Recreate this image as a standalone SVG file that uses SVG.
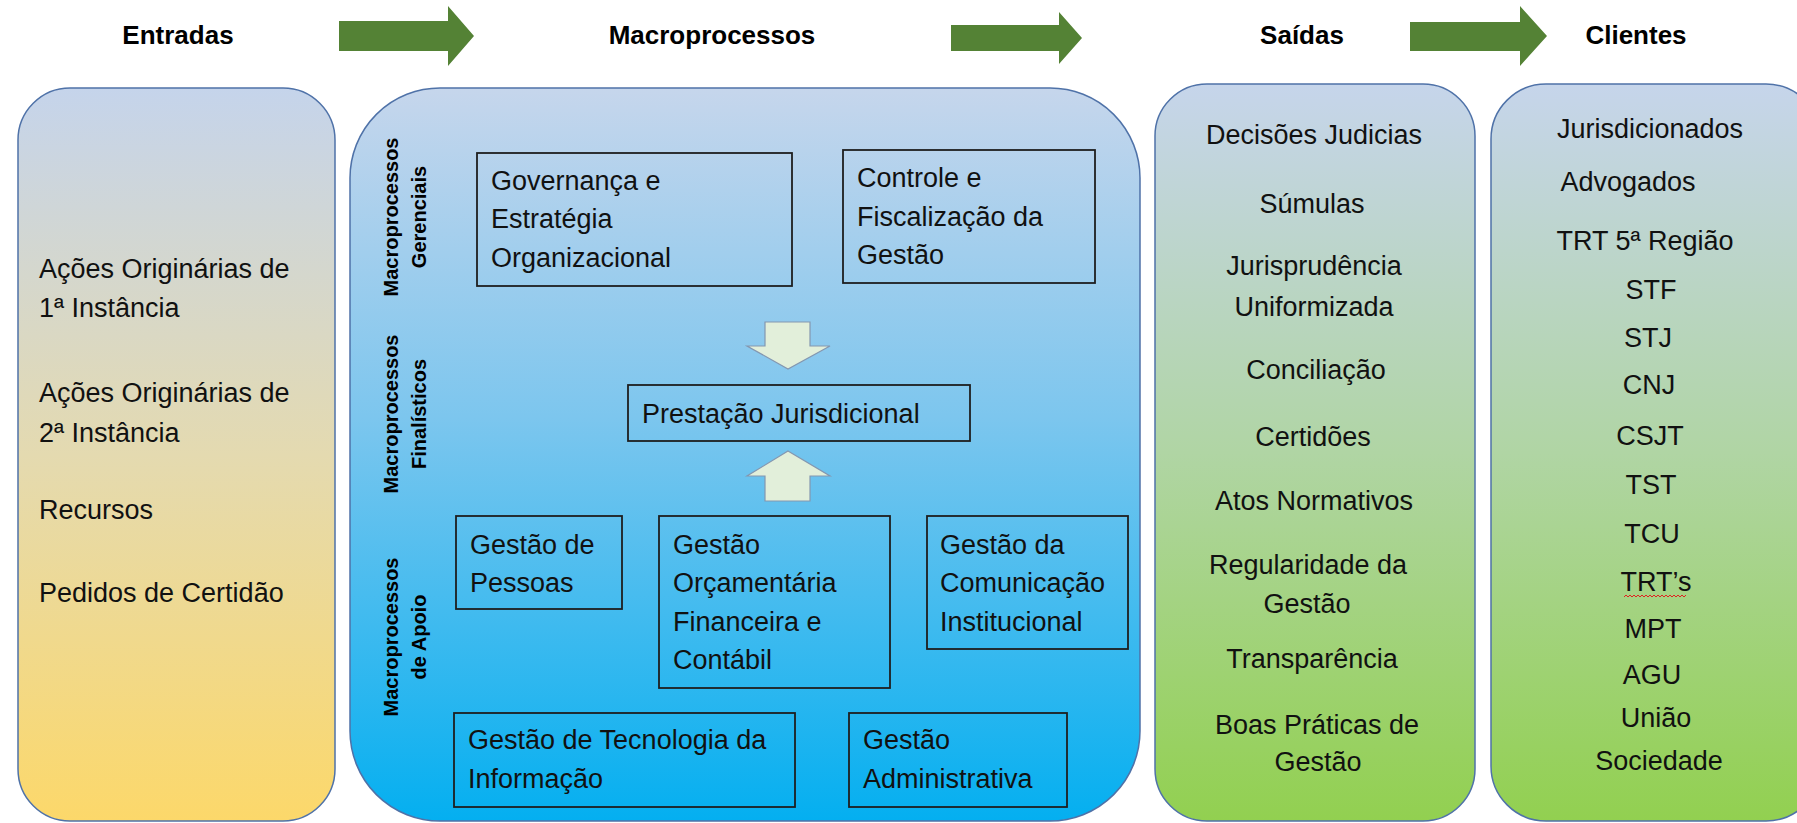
<svg xmlns="http://www.w3.org/2000/svg" width="1797" height="823" viewBox="0 0 1797 823">
<defs>
<linearGradient id="gIn" x1="0" y1="0" x2="0" y2="1"><stop offset="0" stop-color="#c5d4eb"/><stop offset="0.5" stop-color="#e4dab0"/><stop offset="1" stop-color="#fcd86a"/></linearGradient>
<linearGradient id="gMac" x1="0" y1="0" x2="0" y2="1"><stop offset="0" stop-color="#c6d6ec"/><stop offset="0.45" stop-color="#7cc6ee"/><stop offset="1" stop-color="#04aff0"/></linearGradient>
<linearGradient id="gOut" x1="0" y1="0" x2="0" y2="1"><stop offset="0" stop-color="#c6d5eb"/><stop offset="0.5" stop-color="#b0d5a4"/><stop offset="1" stop-color="#92d050"/></linearGradient>
<style>
.t{font-family:"Liberation Sans",Arial,sans-serif;font-size:27px;fill:#111}
.h{font-family:"Liberation Sans",Arial,sans-serif;font-size:26px;font-weight:bold;fill:#000;text-anchor:middle}
.v{font-family:"Liberation Sans",Arial,sans-serif;font-size:20px;font-weight:bold;fill:#000;text-anchor:middle}
.c{text-anchor:middle}
.rb{stroke:#4f72a8;stroke-width:1.5}
.pb{fill:none;stroke:#1e1e1e;stroke-width:1.8}
.ba{fill:#e2efda;stroke:#8497b0;stroke-width:1.2}
.ga{fill:#548235}
</style>
</defs>
<rect width="1797" height="823" fill="#ffffff"/>

<g id="headers">
<text class="h" x="178" y="44">Entradas</text>
<text class="h" x="712" y="44">Macroprocessos</text>
<text class="h" x="1302" y="44">Saídas</text>
<text class="h" x="1636" y="44">Clientes</text>
</g>

<g id="entradas">
<rect class="rb" x="18" y="88" width="317" height="733" rx="52" ry="52" fill="url(#gIn)"/>
<text class="t" x="39" y="278">Ações Originárias de</text>
<text class="t" x="39" y="317">1ª Instância</text>
<text class="t" x="39" y="402">Ações Originárias de</text>
<text class="t" x="39" y="442">2ª Instância</text>
<text class="t" x="39" y="519">Recursos</text>
<text class="t" x="39" y="602">Pedidos de Certidão</text>
</g>

<g id="macroprocessos">
<rect class="rb" x="350" y="88" width="790" height="733" rx="90" ry="90" fill="url(#gMac)"/>
<text class="v" transform="translate(398,217) rotate(-90)">Macroprocessos</text>
<text class="v" transform="translate(426,217) rotate(-90)">Gerenciais</text>
<text class="v" transform="translate(398,414) rotate(-90)">Macroprocessos</text>
<text class="v" transform="translate(426,414) rotate(-90)">Finalísticos</text>
<text class="v" transform="translate(398,637) rotate(-90)">Macroprocessos</text>
<text class="v" transform="translate(426,637) rotate(-90)">de Apoio</text>
</g>

<g id="governanca">
<rect class="pb" x="477" y="153" width="315" height="133"/>
<text class="t" x="491" y="190">Governança e</text>
<text class="t" x="491" y="228">Estratégia</text>
<text class="t" x="491" y="267">Organizacional</text>
</g>

<g id="controle">
<rect class="pb" x="843" y="150" width="252" height="133"/>
<text class="t" x="857" y="187">Controle e</text>
<text class="t" x="857" y="226">Fiscalização da</text>
<text class="t" x="857" y="264">Gestão</text>
</g>

<g id="prestacao">
<rect class="pb" x="628" y="385" width="342" height="56"/>
<text class="t" x="642" y="423">Prestação Jurisdicional</text>
</g>

<g id="pessoas">
<rect class="pb" x="456" y="516" width="166" height="93"/>
<text class="t" x="470" y="554">Gestão de</text>
<text class="t" x="470" y="592">Pessoas</text>
</g>

<g id="orcamentaria">
<rect class="pb" x="659" y="516" width="231" height="172"/>
<text class="t" x="673" y="554">Gestão</text>
<text class="t" x="673" y="592">Orçamentária</text>
<text class="t" x="673" y="631">Financeira e</text>
<text class="t" x="673" y="669">Contábil</text>
</g>

<g id="comunicacao">
<rect class="pb" x="927" y="516" width="201" height="133"/>
<text class="t" x="940" y="554">Gestão da</text>
<text class="t" x="940" y="592">Comunicação</text>
<text class="t" x="940" y="631">Institucional</text>
</g>

<g id="tecnologia">
<rect class="pb" x="454" y="713" width="341" height="94"/>
<text class="t" x="468" y="749">Gestão de Tecnologia da</text>
<text class="t" x="468" y="788">Informação</text>
</g>

<g id="administrativa">
<rect class="pb" x="849" y="713" width="218" height="94"/>
<text class="t" x="863" y="749">Gestão</text>
<text class="t" x="863" y="788">Administrativa</text>
</g>

<g id="saidas">
<rect class="rb" x="1155" y="84" width="320" height="737" rx="52" ry="52" fill="url(#gOut)"/>
<text class="t c" x="1314" y="144">Decisões Judicias</text>
<text class="t c" x="1312" y="213">Súmulas</text>
<text class="t c" x="1314" y="275">Jurisprudência</text>
<text class="t c" x="1314" y="316">Uniformizada</text>
<text class="t c" x="1316" y="379">Conciliação</text>
<text class="t c" x="1313" y="446">Certidões</text>
<text class="t c" x="1314" y="510">Atos Normativos</text>
<text class="t c" x="1308" y="574">Regularidade da</text>
<text class="t c" x="1307" y="613">Gestão</text>
<text class="t c" x="1312" y="668">Transparência</text>
<text class="t c" x="1317" y="734">Boas Práticas de</text>
<text class="t c" x="1318" y="771">Gestão</text>
</g>

<g id="clientes">
<rect class="rb" x="1491" y="84" width="330" height="737" rx="55" ry="55" fill="url(#gOut)"/>
<text class="t c" x="1650" y="138">Jurisdicionados</text>
<text class="t c" x="1628" y="191">Advogados</text>
<text class="t c" x="1645" y="250">TRT 5ª Região</text>
<text class="t c" x="1651" y="299">STF</text>
<text class="t c" x="1648" y="347">STJ</text>
<text class="t c" x="1649" y="394">CNJ</text>
<text class="t c" x="1650" y="445">CSJT</text>
<text class="t c" x="1651" y="494">TST</text>
<text class="t c" x="1652" y="543">TCU</text>
<text class="t c" x="1656" y="591">TRT’s</text>
<path d="M1624,597 l2,-2 l2,2 l2,-2 l2,2 l2,-2 l2,2 l2,-2 l2,2 l2,-2 l2,2 l2,-2 l2,2 l2,-2 l2,2 l2,-2 l2,2 l2,-2 l2,2 l2,-2 l2,2 l2,-2 l2,2 l2,-2 l2,2 l2,-2 l2,2 l2,-2 l2,2 l2,-2 l2,2 l2,-2" fill="none" stroke="#e02020" stroke-width="1"/>
<text class="t c" x="1653" y="638">MPT</text>
<text class="t c" x="1652" y="684">AGU</text>
<text class="t c" x="1656" y="727">União</text>
<text class="t c" x="1659" y="770">Sociedade</text>
</g>

<g id="connectors">
<polygon class="ga" points="339,21 448,21 448,6 474,36 448,66 448,51 339,51"/>
<polygon class="ga" points="951,25 1059,25 1059,12 1082,38 1059,64 1059,51 951,51"/>
<polygon class="ga" points="1410,22 1520,22 1520,6 1547,36 1520,66 1520,51 1410,51"/>
<polygon class="ba" points="765,322 810,322 810,346 830,346 788,369 747,346 765,346"/>
<polygon class="ba" points="788,451 830,476 810,476 810,501 765,501 765,476 747,476"/>
</g>
</svg>
